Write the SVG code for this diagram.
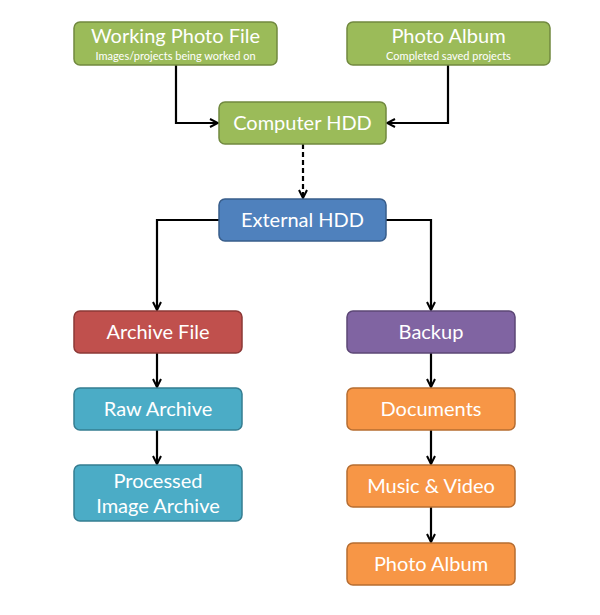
<svg xmlns="http://www.w3.org/2000/svg" width="600" height="615" viewBox="0 0 600 615">
<defs>
<marker id="ah" markerWidth="10" markerHeight="10" refX="9" refY="5" orient="auto" markerUnits="userSpaceOnUse"><path d="M1,1 L9,5 L1,9" fill="none" stroke="#000" stroke-width="2"/></marker>
<style>
.b{stroke-width:1.5}
.g{fill:#9BBB59;stroke:#71893F}.bl{fill:#4F81BD;stroke:#385D8A}.r{fill:#C0504D;stroke:#8C3836}
.p{fill:#8064A2;stroke:#5C4776}.t{fill:#4BACC6;stroke:#357D91}.o{fill:#F79646;stroke:#B66D31}
text{font-family:Lato,"Open Sans",sans-serif;fill:#fff;text-anchor:middle}
.m{font-size:20px}.s{font-size:11px}
.c{fill:none;stroke:#000;stroke-width:2.2;marker-end:url(#ah)}
</style>
</defs>
<rect width="600" height="615" fill="#fff"/>
<g id="connectors">
<path class="c" d="M176,65 V123 H218"/>
<path class="c" d="M448,65 V123 H387"/>
<path class="c" d="M303,144 V198" stroke-dasharray="5,3"/>
<path class="c" d="M219,220 H157 V310"/>
<path class="c" d="M386,220 H431 V310"/>
<path class="c" d="M157,353 V387"/>
<path class="c" d="M157,430 V464"/>
<path class="c" d="M431,353 V387"/>
<path class="c" d="M431,430 V464"/>
<path class="c" d="M431,507 V542"/>
</g>
<g id="working"><rect class="b g" x="74" y="22" width="203" height="43" rx="6"/><text class="m" x="175.5" y="43">Working Photo File</text><text class="s" x="175.5" y="60">Images/projects being worked on</text></g>
<g id="album"><rect class="b g" x="347" y="22" width="203" height="43" rx="6"/><text class="m" x="448.5" y="43">Photo Album</text><text class="s" x="448.5" y="60">Completed saved projects</text></g>
<g id="computer"><rect class="b g" x="219" y="102" width="167" height="42" rx="6"/><text class="m" x="302.5" y="130">Computer HDD</text></g>
<g id="external"><rect class="b bl" x="219" y="199" width="167" height="42" rx="6"/><text class="m" x="302.5" y="227">External HDD</text></g>
<g id="archive"><rect class="b r" x="74" y="311" width="168" height="42" rx="6"/><text class="m" x="158" y="339">Archive File</text></g>
<g id="raw"><rect class="b t" x="74" y="388" width="168" height="42" rx="6"/><text class="m" x="158" y="416">Raw Archive</text></g>
<g id="processed"><rect class="b t" x="74" y="465" width="168" height="56" rx="6"/><text class="m" x="158" y="488">Processed</text><text class="m" x="158" y="513">Image Archive</text></g>
<g id="backup"><rect class="b p" x="347" y="311" width="168" height="42" rx="6"/><text class="m" x="431" y="339">Backup</text></g>
<g id="documents"><rect class="b o" x="347" y="388" width="168" height="42" rx="6"/><text class="m" x="431" y="416">Documents</text></g>
<g id="music"><rect class="b o" x="347" y="465" width="168" height="42" rx="6"/><text class="m" x="431" y="493">Music &amp; Video</text></g>
<g id="photoalbum2"><rect class="b o" x="347" y="543" width="168" height="42" rx="6"/><text class="m" x="431" y="571">Photo Album</text></g>
</svg>
